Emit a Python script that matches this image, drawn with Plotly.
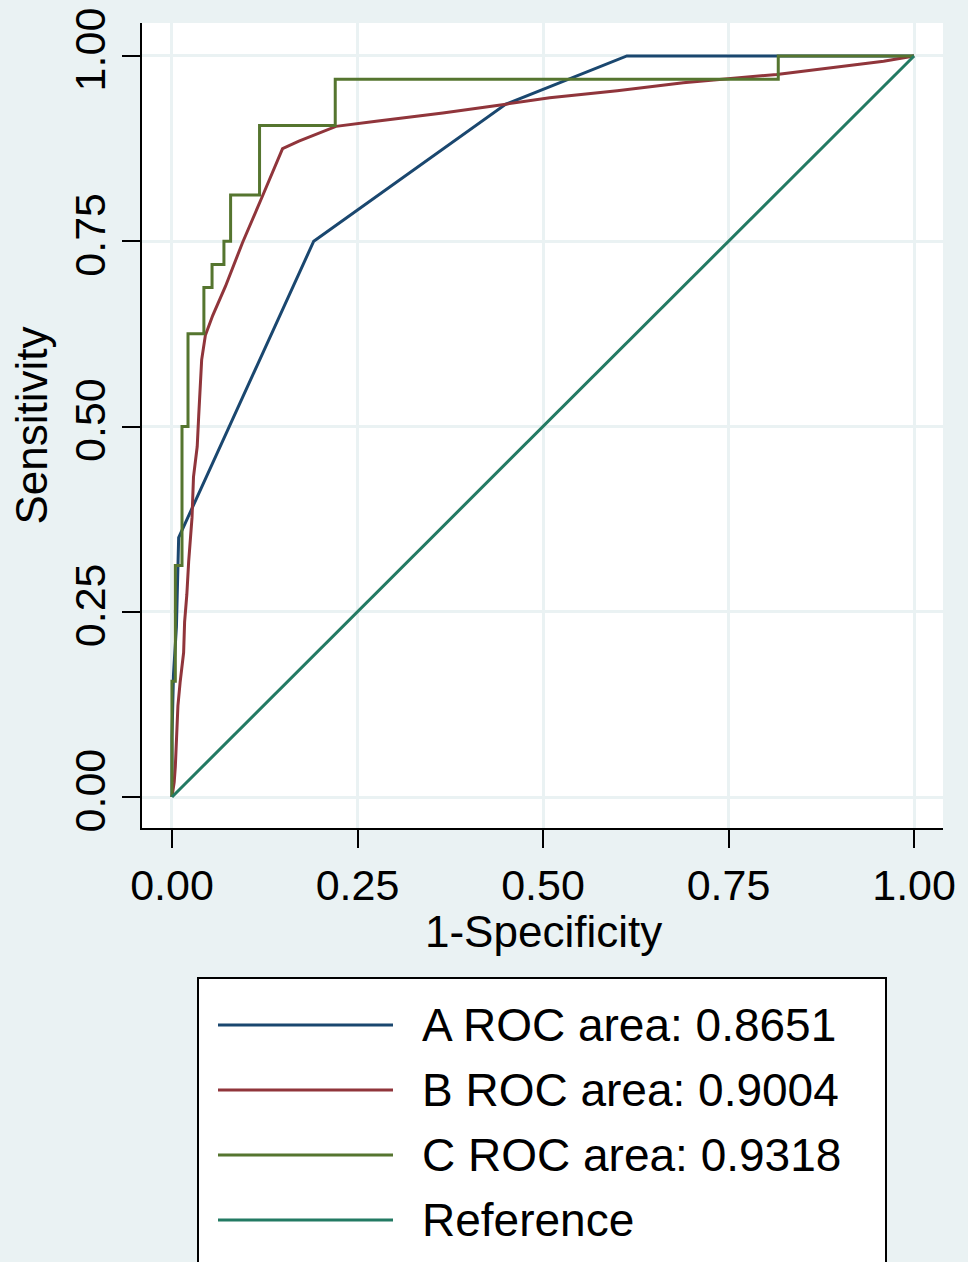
import plotly.graph_objects as go

# ---- data ----
A_x = [0, 0, 0.002, 0.006, 0.009, 0.191, 0.45, 0.613, 1.0]
A_y = [0, 0.08, 0.165, 0.23, 0.35, 0.75, 0.935, 1.0, 1.0]

B_x = [0, 0.003, 0.0045, 0.008, 0.011, 0.0157, 0.017, 0.020, 0.0225, 0.027, 0.029,
       0.034, 0.036, 0.038, 0.040, 0.045, 0.055, 0.072, 0.095, 0.122, 0.149, 0.171,
       0.221, 0.275, 0.32, 0.365, 0.45, 0.509, 0.60, 0.689, 0.815, 0.959, 1.0]
B_y = [0, 0.02, 0.041, 0.123, 0.155, 0.195, 0.236, 0.273, 0.318, 0.377, 0.432,
       0.473, 0.514, 0.55, 0.59, 0.623, 0.65, 0.689, 0.748, 0.811, 0.875, 0.885,
       0.905, 0.912, 0.917, 0.923, 0.935, 0.9435, 0.953, 0.964, 0.975, 0.993, 1.0]

C_x = [0, 0, 0.0045, 0.0135, 0.0216, 0.043, 0.054, 0.070, 0.079, 0.118, 0.22, 0.817, 1.0]
C_y = [0, 0.15625, 0.3125, 0.5, 0.625, 0.6875, 0.71875, 0.75, 0.8125, 0.90625, 0.96875, 1.0, 1.0]

Ref_x = [0, 1]
Ref_y = [0, 1]

names = ["A ROC area: 0.8651", "B ROC area: 0.9004", "C ROC area: 0.9318", "Reference"]
colors = ["#1a476f", "#90353b", "#55752f", "#237a63"]
tick_vals = [0, 0.25, 0.5, 0.75, 1.0]
tick_text = ["0.00", "0.25", "0.50", "0.75", "1.00"]
x_title = "1-Specificity"
y_title = "Sensitivity"

FONT = "Arial, Liberation Sans, sans-serif"

fig = go.Figure()
series = [(A_x, A_y, "linear"), (B_x, B_y, "linear"), (C_x, C_y, "hv"), (Ref_x, Ref_y, "linear")]
for (xs, ys, shape), name, col in zip(series, names, colors):
    fig.add_trace(go.Scatter(x=xs, y=ys, mode="lines", name=name,
                             line=dict(color=col, width=3, shape=shape)))

W, H = 968, 1262
L, R, T, B = 142, 25, 23, 434
pw, ph = W - L - R, H - T - B

def px2paper(px, py):
    return (px - L) / pw, (H - B - py) / ph

axis_common = dict(
    tickvals=tick_vals, ticktext=tick_text, ticks="outside", ticklen=18, tickwidth=2,
    tickcolor="black", showline=True, linecolor="black", linewidth=2, mirror=False,
    showgrid=True, gridcolor="#eaf2f3", gridwidth=3, zeroline=False, automargin=False,
    tickfont=dict(family=FONT, size=43, color="black"),
)

fig.update_layout(
    width=W, height=H,
    margin=dict(l=L, r=R, t=T, b=B, pad=0),
    paper_bgcolor="#eaf2f3", plot_bgcolor="white",
    showlegend=False,
    xaxis=dict(range=[-0.0404, 1.039], **axis_common),
    yaxis=dict(range=[-0.0418, 1.0445], tickangle=-90, title=dict(text=y_title,
               font=dict(family=FONT, size=44, color="black"), standoff=4), **axis_common),
)

# x-axis title as annotation for exact placement
tx, ty = px2paper(543, 932)
fig.add_annotation(xref="paper", yref="paper", x=tx, y=ty, text=x_title, showarrow=False,
                   xanchor="center", yanchor="middle",
                   font=dict(family=FONT, size=44, color="black"))

# ---- custom legend box ----
x0, y0 = px2paper(198, 978)
x1, y1 = px2paper(886, 1263)
fig.add_shape(type="rect", xref="paper", yref="paper", x0=x0, y0=y1, x1=x1, y1=y0,
              line=dict(color="black", width=2), fillcolor="white", layer="above")
row_y = [1025, 1090, 1155, 1220]
for name, col, ry in zip(names, colors, row_y):
    lx0, ly = px2paper(218, ry)
    lx1, _ = px2paper(393, ry)
    fig.add_shape(type="line", xref="paper", yref="paper", x0=lx0, y0=ly, x1=lx1, y1=ly,
                  line=dict(color=col, width=3), layer="above")
    tx, _ = px2paper(420, ry)
    fig.add_annotation(xref="paper", yref="paper", x=tx, y=ly, text=name, showarrow=False,
                       xanchor="left", yanchor="middle",
                       font=dict(family=FONT, size=46, color="black"))

fig.write_html("out.html")
